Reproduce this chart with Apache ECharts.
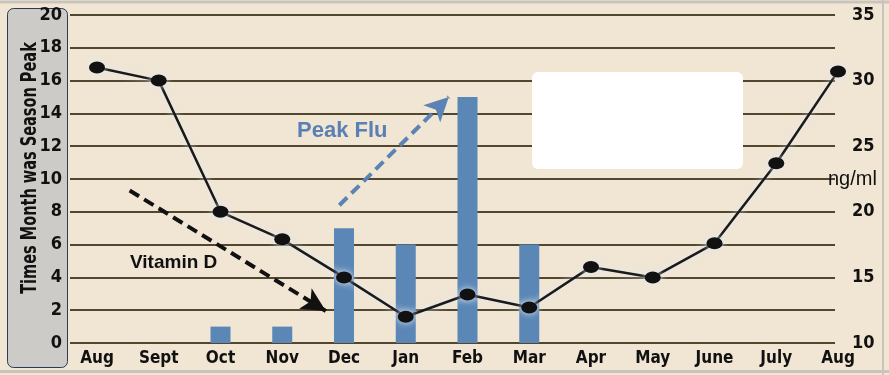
<!DOCTYPE html>
<html>
<head>
<meta charset="utf-8">
<script src="https://cdn.jsdelivr.net/npm/echarts@6/dist/echarts.min.js"></script>
<style>html,body{margin:0;padding:0;background:#f1e6d4;}#c{width:889px;height:375px;}</style>
</head>
<body>
<div id="c"></div>
<script>
// ---- data ----
const months = ['Aug','Sept','Oct','Nov','Dec','Jan','Feb','Mar','Apr','May','June','July','Aug'];
const peakCounts = [0, 0, 1, 1, 7, 6, 15, 6, 0, 0, 0, 0, 0];
const vitaminD = [31.0, 30.0, 20.0, 17.9, 15.0, 12.0, 13.7, 12.7, 15.8, 15.0, 17.6, 23.7, 30.7];
const leftTicks = {min: 0, max: 20, interval: 2};
const rightTicks = {min: 10, max: 35, interval: 5};
const leftTitle = 'Times Month was Season Peak';
// annotation arrows in data space (x = month index, y = left axis)
const fluArrow = [[3.94, 8.4], [5.72, 15.0]];
const vitArrow = [[0.53, 9.3], [3.72, 1.95]];

const narrow = "'DejaVu Sans Condensed','DejaVu Sans',sans-serif";
const gridCol = '#51472f';
const condLabel = {color: '#111', fontFamily: narrow, fontStyle: 'condensed', fontWeight: 'bold'};

const chart = echarts.init(document.getElementById('c'));
chart.setOption({
  backgroundColor: '#f1e6d4',
  animation: false,
  grid: [
    {left: 70, right: 54, top: 15, bottom: 32},
    {left: 97, right: 51, top: 15, bottom: 32}
  ],
  xAxis: [
    {type: 'value', gridIndex: 0, min: -0.44, max: 12, show: false},
    {type: 'category', gridIndex: 1, data: months, boundaryGap: false,
     axisLine: {show: false}, axisTick: {show: false},
     axisLabel: Object.assign({margin: 7, fontSize: 17, interval: 0}, condLabel)}
  ],
  yAxis: [
    {type: 'value', gridIndex: 0, position: 'left', min: leftTicks.min, max: leftTicks.max, interval: leftTicks.interval,
     axisLine: {show: false}, axisTick: {show: false},
     axisLabel: Object.assign({margin: 8, fontSize: 18}, condLabel),
     splitLine: {lineStyle: {color: gridCol, width: 2}}},
    {type: 'value', gridIndex: 0, position: 'right', min: rightTicks.min, max: rightTicks.max, interval: rightTicks.interval,
     axisLine: {show: false}, axisTick: {show: false}, splitLine: {show: false},
     axisLabel: Object.assign({margin: 17, fontSize: 18}, condLabel)},
    {type: 'value', gridIndex: 1, min: leftTicks.min, max: leftTicks.max, show: false},
    {type: 'value', gridIndex: 1, min: rightTicks.min, max: rightTicks.max, show: false}
  ],
  series: [
    {type: 'bar', xAxisIndex: 1, yAxisIndex: 2, data: peakCounts, barWidth: 20,
     itemStyle: {color: '#5b87b6'}, silent: true, z: 2},
    {type: 'line', xAxisIndex: 1, yAxisIndex: 3, data: vitaminD,
     symbol: 'circle', symbolSize: [16, 12], showAllSymbol: true,
     lineStyle: {color: '#1a1a1a', width: 2.5, shadowColor: 'rgba(225,232,242,0.95)', shadowBlur: 7},
     itemStyle: {color: '#111', shadowColor: 'rgba(225,232,242,0.95)', shadowBlur: 7},
     silent: true, z: 4},
    {type: 'line', xAxisIndex: 0, yAxisIndex: 0, data: [], silent: true, z: 5,
     markLine: {
       silent: true, animation: false,
       label: {show: false},
       data: [
         [{coord: fluArrow[0], symbol: 'none', lineStyle: {color: '#5b83b5', width: 4, type: [11, 6]}},
          {coord: fluArrow[1], symbol: 'arrow', symbolSize: [18, 24]}],
         [{coord: vitArrow[0], symbol: 'none', lineStyle: {color: '#111', width: 4, type: [11, 6]}},
          {coord: vitArrow[1], symbol: 'arrow', symbolSize: [18, 24]}]
       ]
     }}
  ],
  graphic: [
    {type: 'rect', z: -1, shape: {x: 7.5, y: 8.5, width: 60, height: 359, r: 6},
     style: {fill: '#cdcbc7', stroke: '#2b3a55', lineWidth: 1}},
    {type: 'text', z: 10, x: 30, y: 168, rotation: Math.PI / 2, scaleX: 0.66, scaleY: 1,
     style: {text: leftTitle, fill: '#111', font: "bold 22px 'DejaVu Sans', sans-serif",
             align: 'center', verticalAlign: 'middle'}},
    {type: 'rect', z: 10, shape: {x: 532, y: 72, width: 211, height: 97, r: 6},
     style: {fill: '#ffffff'}},
    {type: 'text', z: 10, left: 297, top: 120,
     style: {text: 'Peak Flu', fill: '#5b80b3', font: "bold 22px 'Liberation Sans', Arial, sans-serif"}},
    {type: 'text', z: 10, left: 130, top: 253,
     style: {text: 'Vitamin D', fill: '#111', font: "bold 19px 'Liberation Sans', Arial, sans-serif"}},
    {type: 'text', z: 10, left: 828, top: 169,
     style: {text: 'ng/ml', fill: '#111', font: "20px 'Liberation Sans', Arial, sans-serif"}},
    {type: 'line', z: 10, shape: {x1: 0, y1: 2, x2: 889, y2: 2}, style: {stroke: '#c9c5bd', lineWidth: 3}},
    {type: 'line', z: 10, shape: {x1: 0, y1: 371.5, x2: 889, y2: 371.5}, style: {stroke: '#c9c5bd', lineWidth: 3}},
    {type: 'line', z: 10, shape: {x1: 883, y1: 0, x2: 883, y2: 375}, style: {stroke: '#c9c5bd', lineWidth: 2}}
  ]
});
</script>
</body>
</html>
